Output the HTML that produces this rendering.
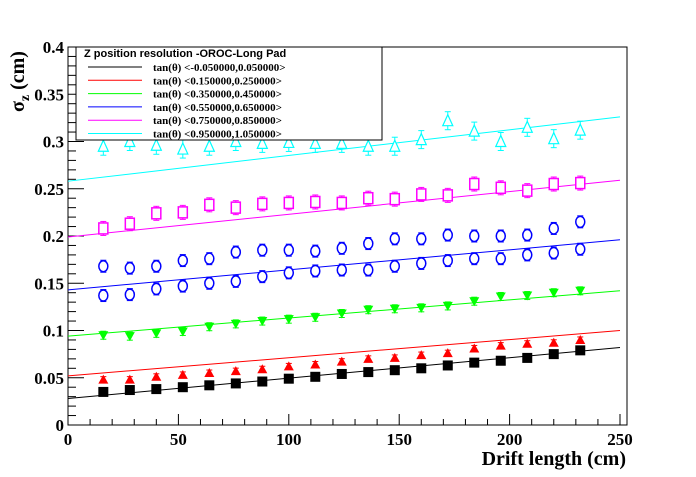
<!DOCTYPE html>
<html><head><meta charset="utf-8"><style>
body{margin:0;background:#fff;}
text{font-family:"Liberation Serif",serif;font-weight:bold;}
</style></head><body>
<svg id="chart" width="696" height="472" xmlns="http://www.w3.org/2000/svg">
<g id="plot"></g>
</svg>
<script>
const xs=[16,28,40,52,64,76,88,100,112,124,136,148,160,172,184,196,208,220,232];
const blackVals=[0.035,0.037,0.038,0.040,0.042,0.044,0.046,0.049,0.051,0.054,0.056,0.058,0.060,0.063,0.066,0.068,0.071,0.075,0.079];
const redVals=[0.048,0.048,0.051,0.053,0.055,0.057,0.059,0.062,0.064,0.067,0.070,0.071,0.074,0.076,0.081,0.084,0.086,0.087,0.090];
const greenVals=[0.095,0.094,0.097,0.099,0.104,0.107,0.110,0.112,0.114,0.118,0.122,0.123,0.124,0.126,0.131,0.136,0.137,0.140,0.142];
const blueLowVals=[0.137,0.138,0.144,0.147,0.150,0.152,0.157,0.161,0.163,0.164,0.164,0.168,0.171,0.174,0.176,0.176,0.180,0.182,0.186];
const blueHighVals=[0.168,0.166,0.168,0.174,0.176,0.183,0.185,0.185,0.184,0.187,0.192,0.197,0.197,0.201,0.200,0.200,0.201,0.208,0.215];
const magentaVals=[0.208,0.213,0.224,0.225,0.233,0.230,0.234,0.235,0.236,0.235,0.240,0.239,0.244,0.243,0.255,0.251,0.248,0.255,0.256];
const cyanVals=[0.295,0.300,0.296,0.292,0.295,0.300,0.298,0.299,0.298,0.298,0.295,0.295,0.302,0.322,0.311,0.300,0.315,0.303,0.312];
const fitStart=[0.028,0.052,0.094,0.143,0.199,0.258];
const fitEnd=[0.082,0.100,0.142,0.196,0.259,0.326];
const fitColors=["#000","#f00","#0f0","#00f","#f0f","#0ff"];
const legendLabels=["tan(θ) <-0.050000,0.050000>","tan(θ) <0.150000,0.250000>","tan(θ) <0.350000,0.450000>","tan(θ) <0.550000,0.650000>","tan(θ) <0.750000,0.850000>","tan(θ) <0.950000,1.050000>"];
const xTicks=[0,50,100,150,200,250];
const yTicks=[0,0.05,0.1,0.15,0.2,0.25,0.3,0.35,0.4];
const yTickLabels=["0","0.05","0.1","0.15","0.2","0.25","0.3","0.35","0.4"];

const X0=68,X1=627,Y0=425,Y1=47;
const sx=v=>68+v*(620-68)/250;
const sy=v=>Y0-v*(Y0-Y1)/0.4;
const NS="http://www.w3.org/2000/svg";
const g=document.getElementById('plot');
function mk(tag,attrs,parent){const e=document.createElementNS(NS,tag);for(const k in attrs)e.setAttribute(k,attrs[k]);(parent||g).appendChild(e);return e;}

let e=mk('rect',{x:X0,y:Y1,width:X1-X0,height:Y0-Y1,fill:'none',stroke:'#000','stroke-width':1});


for(let v=0;v<=250;v+=10){const big=v%50===0;mk('line',{x1:sx(v),x2:sx(v),y1:Y0,y2:Y0-(big?11:6),stroke:'#000'});}
xTicks.forEach(v=>{const t=mk('text',{x:sx(v),y:Y0+20,'font-size':17,'text-anchor':'middle'});t.textContent=v;

});
for(let v=0;v<=0.4001;v+=0.01){const big=Math.abs(Math.round(v*100)%5)===0;mk('line',{x1:X0,x2:X0+(big?16:8),y1:sy(v),y2:sy(v),stroke:'#000'});}
yTicks.forEach((v,i)=>{const t=mk('text',{x:X0-4,y:sy(v)+6,'font-size':17,'text-anchor':'end'});t.textContent=yTickLabels[i];

});
e=mk('text',{x:626,y:465,'font-size':20,'text-anchor':'end'});e.textContent='Drift length (cm)';


e=mk('text',{x:0,y:0,'font-size':20,transform:'translate(24,112) rotate(-90)'});e.innerHTML='σ<tspan font-size="14" dy="5">z</tspan><tspan dy="-5"> (cm)</tspan>';


fitStart.forEach((s,i)=>{const l=mk('line',{x1:sx(0),y1:sy(s),x2:sx(250),y2:sy(fitEnd[i]),stroke:fitColors[i],'stroke-width':1});

});
function errbar(x,y,c,h){mk('line',{x1:x,x2:x,y1:y-h,y2:y+h,stroke:c});mk('line',{x1:x-3,x2:x+3,y1:y-h,y2:y-h,stroke:c});mk('line',{x1:x-3,x2:x+3,y1:y+h,y2:y+h,stroke:c});}
function series(vals,c,shape,h,name){vals.forEach((v,i)=>{const x=sx(xs[i]),y=sy(v);let m;
 errbar(x,y,c,h);
 if(shape==='sq')m=mk('rect',{x:x-5,y:y-5,width:10,height:10,fill:c});
 else if(shape==='tri')m=mk('polygon',{points:`${x},${y-5} ${x-5},${y+4} ${x+5},${y+4}`,fill:c});
 else if(shape==='dtri')m=mk('polygon',{points:`${x},${y+5} ${x-5},${y-4} ${x+5},${y-4}`,fill:c});
 else if(shape==='circ')m=mk('ellipse',{cx:x,cy:y,rx:4.5,ry:5.5,fill:'#fff',stroke:c,'stroke-width':1.5});
 else if(shape==='osq')m=mk('rect',{x:x-4.5,y:y-5.5,width:9,height:11,fill:'#fff',stroke:c,'stroke-width':1.5});
 else m=mk('polygon',{points:`${x},${y-6} ${x-5},${y+5} ${x+5},${y+5}`,fill:'#fff',stroke:c,'stroke-width':1.2});
 
 });}
series(blackVals,'#000','sq',2,'black-marker');
series(redVals,'#f00','tri',3,'red-marker');
series(greenVals,'#0f0','dtri',4,'green-marker');
series(blueLowVals,'#00f','circ',6,'blue-low-marker');
series(blueHighVals,'#00f','circ',6,'blue-high-marker');
series(magentaVals,'#f0f','osq',7,'magenta-marker');
series(cyanVals,'#0ff','otri',9,'cyan-marker');
const lg=mk('g',{});


mk('rect',{x:76,y:47,width:306,height:93,fill:'#fff',stroke:'#000'},lg);
e=mk('text',{x:84,y:57,'font-size':11,style:'font-family:"Liberation Sans",sans-serif;font-weight:bold'},lg);e.textContent='Z position resolution -OROC-Long Pad';
legendLabels.forEach((s,i)=>{const y=67+i*13.3;
 mk('line',{x1:88,x2:142,y1:y,y2:y,stroke:fitColors[i]},lg);
 const t=mk('text',{x:153,y:y+4,'font-size':11},lg);t.textContent=s;
 
 });
</script>
</body></html>
